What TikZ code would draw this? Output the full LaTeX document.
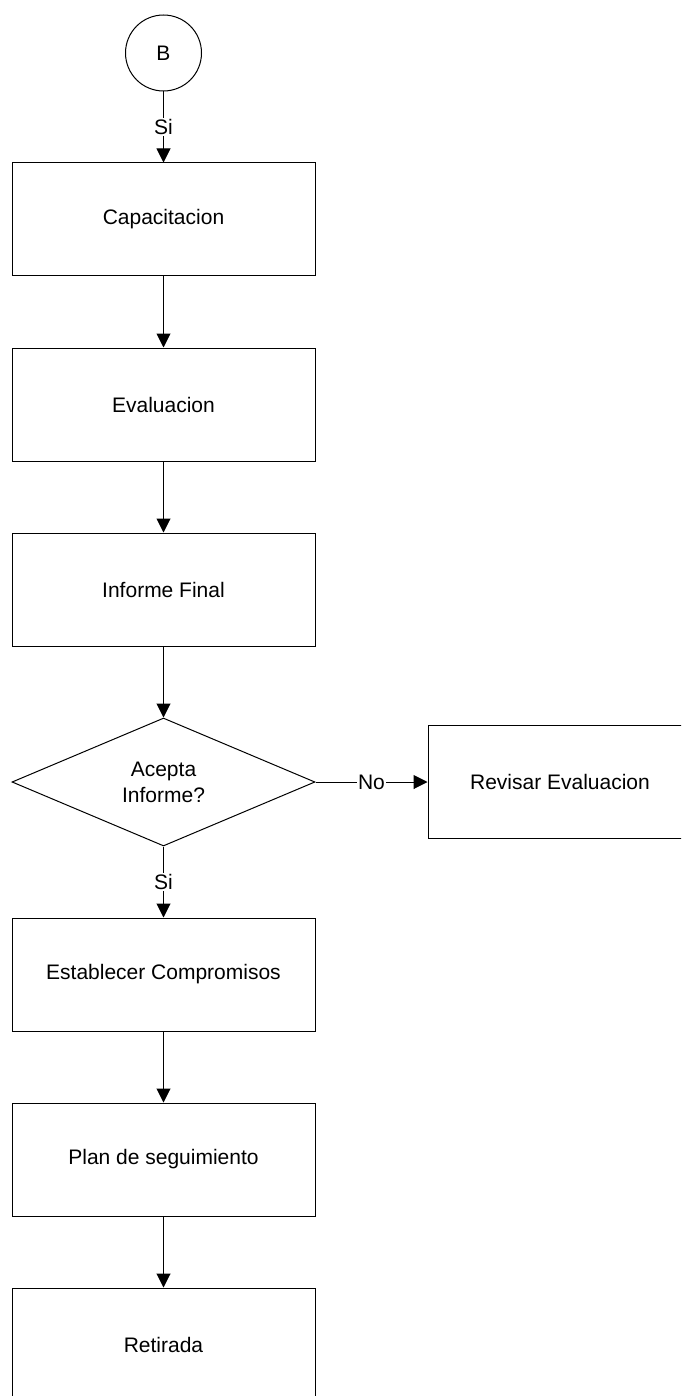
\documentclass[tikz,border=0pt]{standalone}
\usepackage{fontspec}
\setmainfont{Liberation Sans}
\usepackage{tikz}
\usetikzlibrary{arrows.meta,positioning,shapes.geometric}
\definecolor{fcink}{HTML}{000000}
\definecolor{fcpaper}{HTML}{FFFFFF}

\begin{document}
\begin{tikzpicture}[x=1pt,y=1pt,
  font=\fontsize{21}{26}\selectfont,
  node distance=71pt,
  flowbox/.style={draw=fcink,line width=1pt,minimum width=303pt,minimum height=113pt,inner sep=0pt,align=center},
  decision/.style={draw=fcink,line width=1pt,diamond,shape aspect=2.37,minimum width=303pt,minimum height=128pt,inner sep=0pt,align=center},
  connector/.style={draw=fcink,line width=1pt,-{Triangle[length=14pt,width=14pt]}},
  edgelabel/.style={fill=fcpaper,inner sep=1pt}]
\useasboundingbox (0,0) rectangle (681,-1396);
\clip (0,0) rectangle (681,-1396);
% main column
\node[draw=fcink,line width=1pt,circle,minimum size=76pt,inner sep=0pt] (conB) at (163.5,-53) {B};
\node[flowbox,below=of conB] (capacit) {Capacitacion};
\node[flowbox,below=of capacit] (evalua) {Evaluacion};
\node[flowbox,below=of evalua] (informe) {Informe Final};
\node[decision,below=of informe] (acepta) {Acepta\\Informe?};
\node[flowbox,right=112pt of acepta,minimum width=264pt] (revisar) {Revisar Evaluacion};
\node[flowbox,below=of acepta] (compromiso) {Establecer Compromisos};
\node[flowbox,below=of compromiso] (seguim) {Plan de seguimiento};
\node[flowbox,below=of seguim] (retirada) {Retirada};
% connectors
\draw[connector] (conB) -- node[edgelabel] {Si} (capacit);
\draw[connector] (capacit) -- (evalua);
\draw[connector] (evalua) -- (informe);
\draw[connector] (informe) -- (acepta);
\draw[connector] (acepta) -- node[edgelabel] {No} (revisar);
\draw[connector] (acepta) -- node[edgelabel] {Si} (compromiso);
\draw[connector] (compromiso) -- (seguim);
\draw[connector] (seguim) -- (retirada);
\end{tikzpicture}
\end{document}
